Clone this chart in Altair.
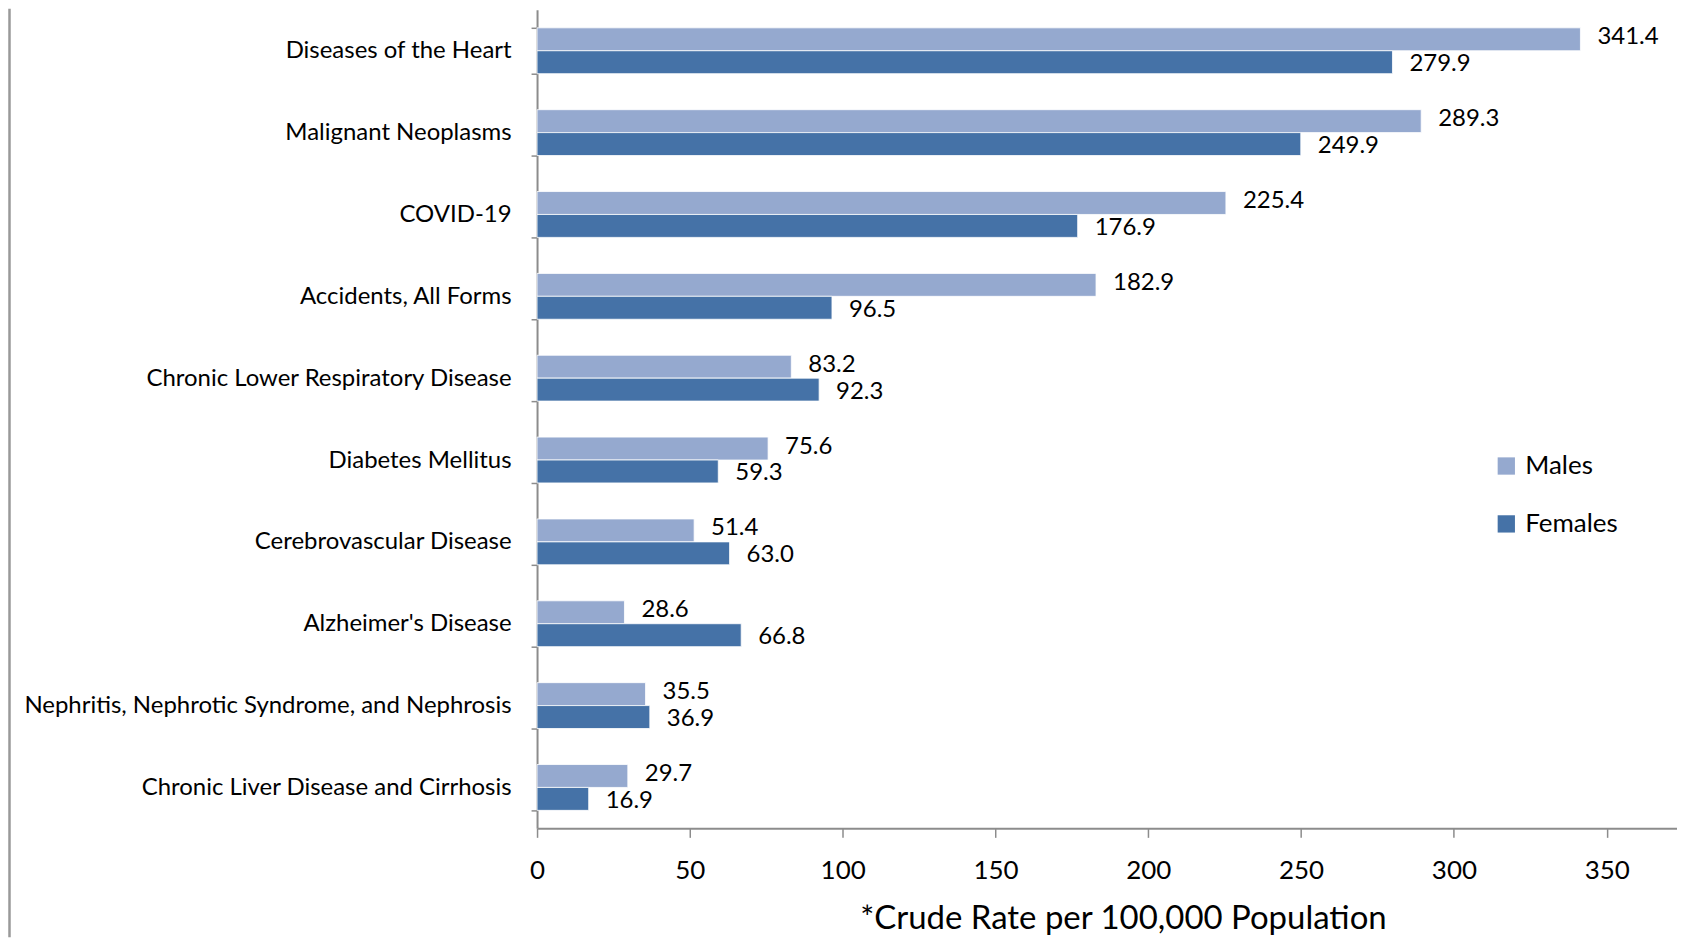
import altair as alt
import pandas as pd

categories = [
    "Diseases of the Heart",
    "Malignant Neoplasms",
    "COVID-19",
    "Accidents, All Forms",
    "Chronic Lower Respiratory Disease",
    "Diabetes Mellitus",
    "Cerebrovascular Disease",
    "Alzheimer's Disease",
    "Nephritis, Nephrotic Syndrome, and Nephrosis",
    "Chronic Liver Disease and Cirrhosis",
]
males = [341.4, 289.3, 225.4, 182.9, 83.2, 75.6, 51.4, 28.6, 35.5, 29.7]
females = [279.9, 249.9, 176.9, 96.5, 92.3, 59.3, 63.0, 66.8, 36.9, 16.9]
series = ["Males", "Females"]
colors = ["#95A9CF", "#4572A7"]
x_ticks = [0, 50, 100, 150, 200, 250, 300, 350]

rows = []
for c, m, f in zip(categories, males, females):
    rows.append({"cause": c, "sex": "Males", "rate": m, "label": f"{m:.1f}"})
    rows.append({"cause": c, "sex": "Females", "rate": f, "label": f"{f:.1f}"})
df = pd.DataFrame(rows)

FONT = "Lato"
GRAY = "#8c8c8c"

y_enc = alt.Y(
    "cause:N",
    sort=categories,
    scale=alt.Scale(paddingInner=0.44, paddingOuter=0.22),
    axis=alt.Axis(
        title=None,
        labelFont=FONT,
        labelFontSize=24,
        labelColor="black",
        domainColor=GRAY,
        domainWidth=2,
        tickColor=GRAY,
        tickWidth=1.5,
        tickSize=6,
        tickBand="extent",
        labelPadding=20,
        labelLimit=600,
    ),
)
yoff_enc = alt.YOffset("sex:N", sort=series, scale=alt.Scale(domain=series, paddingInner=0, paddingOuter=0))
x_enc = alt.X(
    "rate:Q",
    scale=alt.Scale(domain=[0, 373], nice=False, zero=True),
    axis=alt.Axis(
        values=x_ticks,
        format="d",
        grid=False,
        labelFlush=False,
        labelFont=FONT,
        labelFontSize=26,
        labelColor="black",
        labelPadding=20,
        domainColor=GRAY,
        domainWidth=2,
        tickColor=GRAY,
        tickWidth=1.5,
        tickSize=9,
        title="*Crude Rate per 100,000 Population",
        titleFont=FONT,
        titleFontSize=33,
        titleFontWeight="normal",
        titleColor="black",
        titleX=587,
        titleY=100,
        titleAlign="center",
        titleBaseline="alphabetic",
    ),
)

base = alt.Chart(df)

bars = base.mark_bar(stroke="white", strokeWidth=0.8).encode(
    y=y_enc,
    yOffset=yoff_enc,
    x=x_enc,
    color=alt.Color(
        "sex:N",
        sort=series,
        scale=alt.Scale(domain=series, range=colors),
        legend=alt.Legend(
            title=None,
            orient="none",
            legendX=958,
            legendY=444,
            symbolType="square",
            symbolSize=300,
            symbolStrokeWidth=0,
            labelFont=FONT,
            labelFontSize=26,
            labelColor="black",
            rowPadding=32,
            labelOffset=6,
        ),
    ),
)


def label_layer(sex, dy):
    return (
        base.transform_filter(alt.datum.sex == sex)
        .mark_text(align="left", baseline="middle", dx=17, dy=dy, font=FONT, fontSize=24, color="black")
        .encode(
            y=alt.Y("cause:N", sort=categories),
            yOffset=alt.YOffset("sex:N", sort=series),
            x=alt.X("rate:Q"),
            text="label:N",
        )
    )


labels_m = label_layer("Males", -2)
labels_f = label_layer("Females", 2)

border = alt.Chart(alt.Data(values=[{"a": 1}])).mark_rule(color="#999999", strokeWidth=2.5).encode(
    x=alt.value(-528.5), y=alt.value(-1), y2=alt.value(929)
)

chart = (
    alt.layer(bars, labels_m, labels_f, border)
    .properties(
        width=1142,
        height=820,
        autosize=alt.AutoSizeParams(type="none"),
        padding={"left": 530, "top": 1, "right": 0, "bottom": 109},
    )
    .configure_view(stroke=None)
)

chart.save("out.html", embed_options={"renderer": "svg", "actions": False})
